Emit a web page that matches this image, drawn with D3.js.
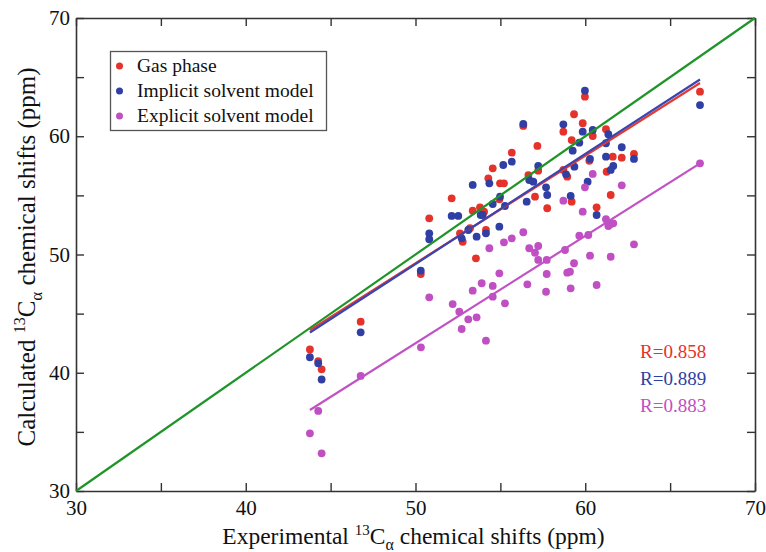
<!DOCTYPE html>
<html><head><meta charset="utf-8">
<script src="https://cdn.jsdelivr.net/npm/d3@7"></script>
<style>body{margin:0;background:#fff}svg{display:block}</style>
</head><body><svg id="c" width="766" height="552"></svg>
<script>
const xTickValues = [30,35,40,45,50,55,60,65,70];
const yTickValues = [30,35,40,45,50,55,60,65,70];
const labeledTicks = [30,40,50,60,70];
const seriesNames = ["Gas phase","Implicit solvent model","Explicit solvent model"];
const rLabels = ["R=0.858","R=0.889","R=0.883"];

const gasPhase = [[66.76,63.77],[59.98,63.35],[59.34,61.86],[56.35,60.87],[58.71,60.39],[59.85,61.10],[60.44,60.02],[61.22,60.59],[59.20,59.68],[57.18,59.18],[55.67,58.61],[62.87,58.50],[61.62,58.27],[62.15,58.19],[54.55,57.29],[57.23,57.09],[61.26,57.00],[58.71,57.15],[58.94,56.58],[56.65,56.72],[54.29,56.44],[54.98,56.02],[55.21,56.02],[61.50,55.03],[54.94,54.67],[57.04,54.89],[54.04,53.62],[57.76,53.91],[59.20,54.47],[60.67,53.99],[54.15,52.07],[53.56,49.68],[52.13,54.75],[50.81,53.06],[53.37,53.70],[53.80,53.99],[52.62,51.79],[52.78,51.08],[53.21,52.22],[50.31,48.35],[46.77,44.32],[43.78,41.97],[44.27,40.99],[44.47,40.29],[60.24,57.93]];

const implicitSolvent = [[66.76,62.64],[59.98,63.85],[56.35,61.04],[58.71,61.01],[59.85,60.39],[60.44,60.53],[61.36,60.17],[59.65,59.46],[59.26,58.78],[62.15,59.07],[62.87,58.08],[61.22,58.27],[61.22,59.41],[55.17,57.57],[55.67,57.85],[57.23,57.49],[60.28,58.08],[61.65,57.49],[61.50,57.15],[59.36,57.43],[58.87,56.78],[56.70,56.30],[54.35,56.02],[56.94,56.16],[57.69,55.68],[57.76,55.03],[60.14,56.16],[54.98,54.89],[56.55,54.47],[55.27,54.10],[53.96,53.34],[59.14,54.95],[60.67,53.34],[54.94,52.35],[54.15,51.79],[53.37,55.88],[52.13,53.26],[52.52,53.26],[50.81,51.79],[50.81,51.29],[52.72,51.37],[53.11,52.07],[53.60,51.51],[53.84,53.34],[54.55,54.27],[50.31,48.63],[46.77,43.42],[43.78,41.31],[44.27,40.80],[44.47,39.43]];

const explicitSolvent = [[66.76,57.71],[60.44,56.81],[59.98,55.68],[62.15,55.85],[58.71,54.55],[59.85,53.62],[61.22,52.98],[61.50,52.58],[61.65,52.64],[61.36,52.41],[56.35,51.88],[55.67,51.37],[55.21,51.03],[60.18,51.65],[59.65,51.59],[62.87,50.86],[54.35,50.53],[56.70,50.53],[57.23,50.72],[57.04,50.15],[58.81,50.38],[57.23,49.54],[57.73,49.54],[60.28,49.90],[61.50,49.81],[59.34,49.26],[58.94,48.46],[59.10,48.55],[54.94,48.41],[57.73,48.35],[53.90,47.57],[54.55,47.34],[56.59,47.48],[57.69,46.85],[59.14,47.14],[60.67,47.42],[54.55,46.43],[55.27,45.87],[54.15,42.71],[50.81,46.38],[52.19,45.81],[52.58,45.16],[53.37,46.94],[53.11,44.52],[53.60,44.69],[52.72,43.70],[50.32,42.15],[46.77,39.73],[44.27,36.77],[43.78,34.88],[44.47,33.19]];

const gasFit = [[43.78,43.6],[66.76,64.5]];
const implicitFit = [[43.78,43.4],[66.76,64.8]];
const explicitFit = [[43.78,36.85],[66.76,57.71]];
const identityLine = [[30,30],[70,70]];

const FONT = "'Liberation Serif','Times New Roman',serif";
const colors = {red:"#e5322b", blue:"#2f3fa3", mag:"#bf4fc2", green:"#1f9428"};
const lineColors = {red:"#e23a33", blue:"#3a45b0", mag:"#c052c4"};

const M = {left:76, top:18, right:11, bottom:61};
const W = 766 - M.left - M.right, H = 552 - M.top - M.bottom;
const svg = d3.select("#c");
const g = svg.append("g").attr("transform",`translate(${M.left},${M.top})`);
const x = d3.scaleLinear().domain([30,70]).range([0,W]);
const y = d3.scaleLinear().domain([30,70]).range([H,0]);

const fmt = d => labeledTicks.includes(d) ? String(d) : "";
function styleAxis(sel){
  sel.select(".domain").attr("stroke","#333").attr("stroke-width",1.6);
  sel.selectAll(".tick line").attr("stroke","#333").attr("stroke-width",1.4);
  sel.selectAll("text").attr("font-family",FONT).attr("font-size",21).attr("fill","#111");
}
g.append("g").attr("transform",`translate(0,${H})`)
  .call(d3.axisBottom(x).tickValues(xTickValues).tickFormat(fmt).tickSizeInner(-8).tickSizeOuter(0).tickPadding(9)).call(styleAxis);
g.append("g")
  .call(d3.axisTop(x).tickValues(xTickValues).tickFormat("").tickSizeInner(-8).tickSizeOuter(0)).call(styleAxis);
g.append("g")
  .call(d3.axisLeft(y).tickValues(yTickValues).tickFormat(fmt).tickSizeInner(-8).tickSizeOuter(0).tickPadding(6)).call(styleAxis);
g.append("g").attr("transform",`translate(${W},0)`)
  .call(d3.axisRight(y).tickValues(yTickValues).tickFormat("").tickSizeInner(-8).tickSizeOuter(0)).call(styleAxis);

const R = 3.9;
function dots(data, col){
  g.append("g").selectAll("circle").data(data).join("circle")
    .attr("cx",d=>x(d[0])).attr("cy",d=>y(d[1])).attr("r",R).attr("fill",col);
}
dots(gasPhase, colors.red);
dots(implicitSolvent, colors.blue);
dots(explicitSolvent, colors.mag);

const line = d3.line().x(d=>x(d[0])).y(d=>y(d[1]));
function drawLine(data,col){
  g.append("path").datum(data).attr("d",line).attr("fill","none").attr("stroke",col).attr("stroke-width",2.2);
}
drawLine(identityLine, colors.green);
drawLine(explicitFit, lineColors.mag);
drawLine(gasFit, lineColors.red);
drawLine(implicitFit, lineColors.blue);

// legend
const lg = svg.append("g");
lg.append("rect").attr("x",110.5).attr("y",51.5).attr("width",216).attr("height",79)
  .attr("fill","#fff").attr("stroke","#555").attr("stroke-width",1.3);
const legCols = [colors.red, colors.blue, colors.mag];
seriesNames.forEach((n,i)=>{
  const cy = 66 + i*25;
  lg.append("circle").attr("cx",119.5).attr("cy",cy).attr("r",3.5).attr("fill",legCols[i]);
  lg.append("text").attr("x",137).attr("y",cy+6).attr("font-family",FONT).attr("font-size",19.5)
    .attr("fill","#111").text(n);
});

// R values
const rCols = [colors.red, colors.blue, colors.mag];
rLabels.forEach((t,i)=>{
  svg.append("text").attr("x",640).attr("y",358 + i*27).attr("font-family",FONT).attr("font-size",19)
    .attr("fill",rCols[i]).text(t);
});

// axis titles
function title(sel, pre, fs){
  sel.attr("font-family",FONT).attr("font-size",fs).attr("fill","#111");
  sel.append("tspan").text(pre+" ");
  sel.append("tspan").attr("font-size",fs*0.64).attr("dy",-fs*0.4).text("13");
  sel.append("tspan").attr("dy",fs*0.4).text("C");
  sel.append("tspan").attr("font-size",fs*0.68).attr("dy",fs*0.27).text("α");
  sel.append("tspan").attr("dy",-fs*0.27).text(" chemical shifts (ppm)");
}
svg.append("text").attr("x",M.left+W/2 - 2).attr("y",544).attr("text-anchor","middle").call(title,"Experimental",23.5);
svg.append("text").attr("transform",`translate(35,${257}) rotate(-90)`).attr("text-anchor","middle").call(title,"Calculated",25);
</script>
</body></html>
